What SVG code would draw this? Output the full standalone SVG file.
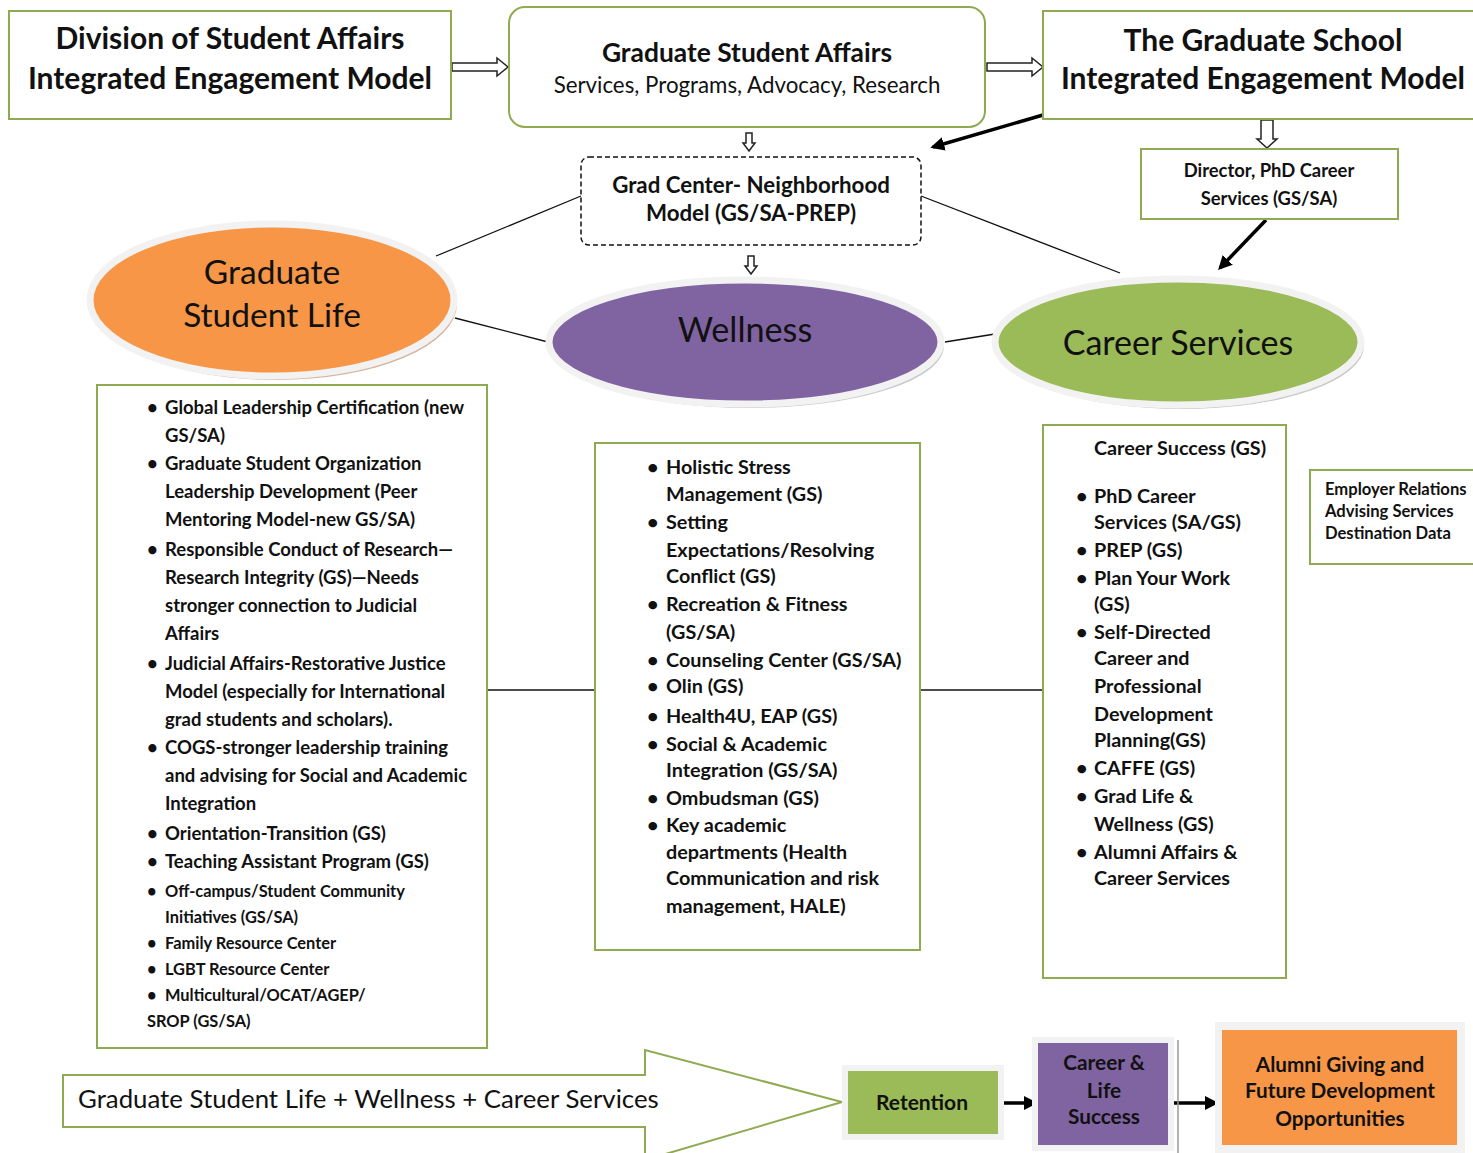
<svg xmlns="http://www.w3.org/2000/svg" width="1473" height="1153" viewBox="0 0 1473 1153">
<defs>
<style>
.box{fill:#fff;stroke:#8eab52;stroke-width:2}
.hol{fill:#fff;stroke:#222;stroke-width:1.5}
.ln{stroke:#111;stroke-width:1.3;fill:none}
.thk{stroke:#000;stroke-width:3.5;fill:none}
.t{font-family:Lato,"Liberation Sans",sans-serif;fill:#111}
.b{font-weight:bold}
.c{text-anchor:middle}
.li{font-family:Lato,"Liberation Sans",sans-serif;font-weight:bold;font-size:18.5px;fill:#111}
.li2{font-family:Lato,"Liberation Sans",sans-serif;font-weight:bold;font-size:19.8px;fill:#111}
.sm{font-size:16.4px}
</style>
<marker id="ah" viewBox="0 0 10 10" refX="8" refY="5" markerWidth="4" markerHeight="4" orient="auto"><path d="M0,0L10,5L0,10z" fill="#000"/></marker>
</defs>
<rect width="1473" height="1153" fill="#fff"/>

<g id="connectors">
<polygon class="hol" points="452,63 497,63 497,58 508,67 497,76 497,71 452,71"/>
<polygon class="hol" points="987,63 1032,63 1032,58 1043,67 1032,76 1032,71 987,71"/>
<polygon class="hol" points="746,133 752,133 752,143 755,143 749,151 743,143 746,143"/>
<polygon class="hol" points="748,256 754,256 754,266 757,266 751,274 745,266 748,266"/>
<polygon class="hol" points="1261,120 1273,120 1273,139 1277,139 1267,148 1257,139 1261,139"/>
<line class="thk" x1="1043" y1="115" x2="933" y2="147" marker-end="url(#ah)"/>
<line class="thk" x1="1266" y1="220" x2="1220" y2="268" marker-end="url(#ah)"/>
<line class="ln" x1="581" y1="196" x2="436" y2="256"/>
<line class="ln" x1="921" y1="196" x2="1120" y2="273"/>
<line class="ln" x1="455" y1="318" x2="548" y2="342"/>
<line class="ln" x1="945" y1="342" x2="995" y2="334"/>
<line class="ln" x1="488" y1="690" x2="594" y2="690"/>
<line class="ln" x1="920" y1="690" x2="1043" y2="690"/>
<line class="thk" x1="990" y1="1103" x2="1035" y2="1103" stroke-width="3" marker-end="url(#ah)"/>
<line class="thk" x1="1171" y1="1103" x2="1216" y2="1103" stroke-width="3" marker-end="url(#ah)"/>
<line x1="1178" y1="1040" x2="1178" y2="1153" stroke="#999" stroke-width="1.5"/>
</g>

<g id="division">
<rect class="box" x="9" y="11" width="442" height="108"/>
<text class="t b c" x="230" y="49" font-size="30">Division of Student Affairs</text>
<text class="t b c" x="230" y="89" font-size="30">Integrated Engagement Model</text>
</g>

<g id="gsa">
<rect class="box" x="509" y="7" width="476" height="120" rx="16"/>
<text class="t b c" x="747" y="62" font-size="26.4">Graduate Student Affairs</text>
<text class="t c" x="747" y="93" font-size="22.3">Services, Programs, Advocacy, Research</text>
</g>

<g id="gradschool">
<rect class="box" x="1043" y="11" width="440" height="108"/>
<text class="t b c" x="1263" y="51" font-size="30">The Graduate School</text>
<text class="t b c" x="1263" y="89" font-size="30">Integrated Engagement Model</text>
</g>

<g id="gradcenter">
<rect x="581" y="157" width="340" height="88" rx="8" fill="#fff" stroke="#111" stroke-width="1.5" stroke-dasharray="5,3"/>
<text class="t b c" x="751" y="193" font-size="22.3">Grad Center- Neighborhood</text>
<text class="t b c" x="751" y="221" font-size="22.3">Model (GS/SA-PREP)</text>
</g>

<g id="director">
<rect class="box" x="1141" y="149" width="257" height="70"/>
<text class="t b c" x="1269" y="176.5" font-size="18.4">Director, PhD Career</text>
<text class="t b c" x="1269" y="204.5" font-size="18.4">Services (GS/SA)</text>
</g>

<g id="gsl">
<ellipse cx="276" cy="304" rx="181" ry="76" fill="#d6b39b"/>
<ellipse cx="272" cy="300" rx="182" ry="76" fill="#f79646" stroke="#f2f2f2" stroke-width="7"/>
<text class="t c" x="272" y="284" font-size="33.5">Graduate</text>
<text class="t c" x="272" y="327" font-size="33.5">Student Life</text>
</g>

<g id="wellness">
<ellipse cx="749" cy="346" rx="195" ry="62" fill="#c8c8cf"/>
<ellipse cx="745" cy="342" rx="196" ry="62" fill="#8064a2" stroke="#f2f2f2" stroke-width="7"/>
<text class="t c" x="745" y="342" font-size="34.2">Wellness</text>
</g>

<g id="career">
<ellipse cx="1182" cy="346" rx="182" ry="63" fill="#c9c9c9"/>
<ellipse cx="1178" cy="342" rx="183" ry="63" fill="#9bbb59" stroke="#f2f2f2" stroke-width="7"/>
<text class="t c" x="1178" y="355" font-size="34">Career Services</text>
</g>

<g id="gsl-list">
<rect class="box" x="97" y="385" width="390" height="663"/>
<g class="li">
<text x="147" y="414">•</text><text x="165" y="414">Global Leadership Certification (new</text>
<text x="165" y="442">GS/SA)</text>
<text x="147" y="470">•</text><text x="165" y="470">Graduate Student Organization</text>
<text x="165" y="498">Leadership Development (Peer</text>
<text x="165" y="526">Mentoring Model-new GS/SA)</text>
<text x="147" y="556">•</text><text x="165" y="556">Responsible Conduct of Research—</text>
<text x="165" y="584">Research Integrity (GS)—Needs</text>
<text x="165" y="612">stronger connection to Judicial</text>
<text x="165" y="640">Affairs</text>
<text x="147" y="670">•</text><text x="165" y="670">Judicial Affairs-Restorative Justice</text>
<text x="165" y="698">Model (especially for International</text>
<text x="165" y="726">grad students and scholars).</text>
<text x="147" y="754">•</text><text x="165" y="754">COGS-stronger leadership training</text>
<text x="165" y="782">and advising for Social and Academic</text>
<text x="165" y="810">Integration</text>
<text x="147" y="840">•</text><text x="165" y="840">Orientation-Transition (GS)</text>
<text x="147" y="868">•</text><text x="165" y="868">Teaching Assistant Program (GS)</text>
<g class="sm">
<text x="147" y="897">•</text><text x="165" y="897">Off-campus/Student Community</text>
<text x="165" y="923">Initiatives (GS/SA)</text>
<text x="147" y="949">•</text><text x="165" y="949">Family Resource Center</text>
<text x="147" y="975">•</text><text x="165" y="975">LGBT Resource Center</text>
<text x="147" y="1001">•</text><text x="165" y="1001">Multicultural/OCAT/AGEP/</text>
<text x="147" y="1027">SROP (GS/SA)</text>
</g>
</g>
</g>

<g id="wellness-list">
<rect class="box" x="595" y="443" width="325" height="507"/>
<g class="li2">
<text x="647" y="474">•</text><text x="666" y="474">Holistic Stress</text>
<text x="666" y="501">Management (GS)</text>
<text x="647" y="529">•</text><text x="666" y="529">Setting</text>
<text x="666" y="557">Expectations/Resolving</text>
<text x="666" y="583">Conflict (GS)</text>
<text x="647" y="611">•</text><text x="666" y="611">Recreation &amp; Fitness</text>
<text x="666" y="639">(GS/SA)</text>
<text x="647" y="667">•</text><text x="666" y="667">Counseling Center (GS/SA)</text>
<text x="647" y="693">•</text><text x="666" y="693">Olin (GS)</text>
<text x="647" y="723">•</text><text x="666" y="723">Health4U, EAP (GS)</text>
<text x="647" y="751">•</text><text x="666" y="751">Social &amp; Academic</text>
<text x="666" y="777">Integration (GS/SA)</text>
<text x="647" y="805">•</text><text x="666" y="805">Ombudsman (GS)</text>
<text x="647" y="832">•</text><text x="666" y="832">Key academic</text>
<text x="666" y="859">departments (Health</text>
<text x="666" y="885">Communication and risk</text>
<text x="666" y="913">management, HALE)</text>
</g>
</g>

<g id="career-list">
<rect class="box" x="1043" y="425" width="243" height="553"/>
<g class="li2">
<text x="1094" y="455">Career Success (GS)</text>
<text x="1076" y="503">•</text><text x="1094" y="503">PhD Career</text>
<text x="1094" y="529">Services (SA/GS)</text>
<text x="1076" y="557">•</text><text x="1094" y="557">PREP (GS)</text>
<text x="1076" y="585">•</text><text x="1094" y="585">Plan Your Work</text>
<text x="1094" y="611">(GS)</text>
<text x="1076" y="639">•</text><text x="1094" y="639">Self-Directed</text>
<text x="1094" y="665">Career and</text>
<text x="1094" y="693">Professional</text>
<text x="1094" y="721">Development</text>
<text x="1094" y="747">Planning(GS)</text>
<text x="1076" y="775">•</text><text x="1094" y="775">CAFFE (GS)</text>
<text x="1076" y="803">•</text><text x="1094" y="803">Grad Life &amp;</text>
<text x="1094" y="831">Wellness (GS)</text>
<text x="1076" y="859">•</text><text x="1094" y="859">Alumni Affairs &amp;</text>
<text x="1094" y="885">Career Services</text>
</g>
</g>

<g id="employer">
<rect class="box" x="1310" y="470" width="175" height="94"/>
<text class="t b" x="1325" y="495" font-size="16.6">Employer Relations</text>
<text class="t b" x="1325" y="517" font-size="16.6">Advising Services</text>
<text class="t b" x="1325" y="539" font-size="16.6">Destination Data</text>
</g>

<g id="bigarrow">
<polygon points="63,1075 645,1075 645,1050 842,1102 645,1160 645,1127 63,1127" fill="#fff" stroke="#8eab52" stroke-width="2"/>
<text class="t" x="78" y="1108" font-size="25.8">Graduate Student Life + Wellness + Career Services</text>
</g>

<g id="retention">
<rect x="842" y="1065" width="162" height="75" fill="#f2f2f2"/>
<rect x="848" y="1071" width="150" height="63" fill="#9bbb59"/>
<text class="t b c" x="922" y="1110" font-size="21">Retention</text>
</g>

<g id="careerlife">
<rect x="1032" y="1037" width="142" height="114" fill="#f2f2f2"/>
<rect x="1038" y="1043" width="130" height="102" fill="#8064a2"/>
<text class="t b c" x="1104" y="1070" font-size="20.8">Career &amp;</text>
<text class="t b c" x="1104" y="1098" font-size="20.8">Life</text>
<text class="t b c" x="1104" y="1124" font-size="20.8">Success</text>
</g>

<g id="alumni">
<rect x="1215" y="1022" width="250" height="131" fill="#f2f2f2"/>
<rect x="1222" y="1030" width="235" height="115" fill="#f79646"/>
<text class="t b c" x="1340" y="1072" font-size="20.7">Alumni Giving and</text>
<text class="t b c" x="1340" y="1098" font-size="20.7">Future Development</text>
<text class="t b c" x="1340" y="1126" font-size="20.7">Opportunities</text>
</g>
</svg>
